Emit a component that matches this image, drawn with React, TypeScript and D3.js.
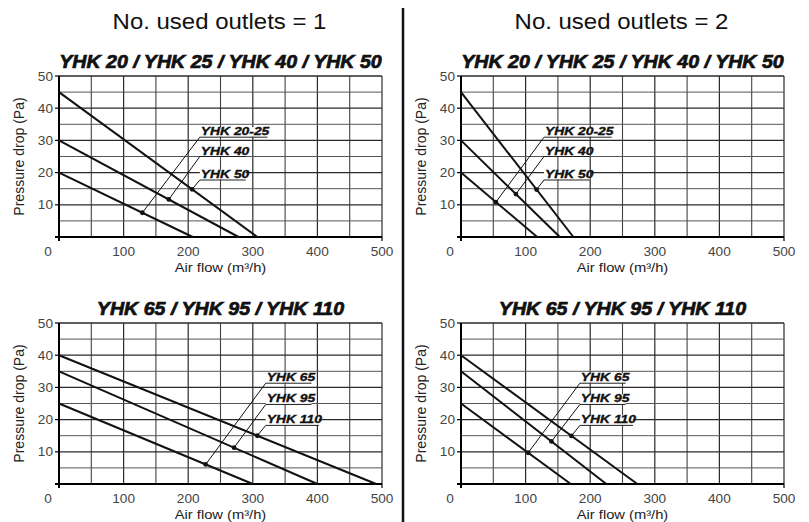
import React from 'react';
import * as d3 from 'd3';

// header / titles
const headers = ['No. used outlets = 1', 'No. used outlets = 2'];
const titles = ['YHK 20 / YHK 25 / YHK 40 / YHK 50', 'YHK 65 / YHK 95 / YHK 110'];
const xTicks = [0, 100, 200, 300, 400, 500];
const yTicks = [10, 20, 30, 40, 50];

// YHK 20 / 25 / 40 / 50
const smallNames = ['YHK 20-25', 'YHK 40', 'YHK 50'];
const smallStart = [20, 30, 45]; // Pa at 0 m3/h
const smallEnd1 = [207, 278, 307]; // m3/h at 0 Pa, 1 outlet
const smallEnd2 = [118, 153, 174]; // m3/h at 0 Pa, 2 outlets
const smallMark1 = [129, 170, 206];
const smallMark2 = [54, 85, 117];
const smallLabelY = [31, 25, 17.7];
const smallLabelX = [218, 128.5];

// YHK 65 / 95 / 110
const bigNames = ['YHK 65', 'YHK 95', 'YHK 110'];
const bigStart = [25, 35, 40];
const bigEnd1 = [300, 400, 491];
const bigEnd2 = [170, 225, 273];
const bigMark1 = [227, 271, 307];
const bigMark2 = [104, 140, 171];
const bigLabelY = [31.3, 24.7, 18.2];
const bigLabelX = [320, 184];

const FONT = '"Liberation Sans", Arial, sans-serif';
const SX = 1.09; // the original type is a bit wider than Arial

const W = 323;
const H = 161;
const colLeft = [59, 461];
const rowTop = [76, 323];

interface PanelProps {
  left: number;
  top: number;
  title: string;
  names: string[];
  start: number[];
  end: number[];
  mark: number[];
  labelX: number;
  labelY: number[];
}

const Panel = ({ left, top, title, names, start, end, mark, labelX, labelY }: PanelProps) => {
  const x = d3.scaleLinear().domain([0, 500]).range([left, left + W]);
  const y = d3.scaleLinear().domain([0, 50]).range([top + H, top]);
  const bottom = top + H;
  const line = d3.line<[number, number]>().x(d => x(d[0])).y(d => y(d[1]));

  const vGrid = d3.range(50, 501, 50);
  const hGrid = d3.range(5, 51, 5);

  return (
    <g>
      <text
        transform={`translate(${left + W / 2},${top - 8}) scale(${SX},1)`}
        textAnchor="middle"
        fontFamily={FONT}
        fontWeight="bold"
        fontStyle="italic"
        fontSize={18}
        fill="#111"
        stroke="#111"
        strokeWidth={0.7}
      >
        {title}
      </text>

      {/* grid */}
      {vGrid.map(v => (
        <line key={'v' + v} x1={x(v)} x2={x(v)} y1={top} y2={bottom}
          stroke={v % 100 === 0 ? '#2a2a2a' : '#444'} strokeWidth={v % 100 === 0 ? 1.2 : 1.1} />
      ))}
      {hGrid.map(v => (
        <line key={'h' + v} x1={left} x2={left + W} y1={y(v)} y2={y(v)}
          stroke={v % 10 === 0 ? '#2a2a2a' : '#555'} strokeWidth={v % 10 === 0 ? 1.3 : 1} />
      ))}

      {/* axes */}
      <line x1={left - 4} x2={left + W} y1={bottom} y2={bottom} stroke="#000" strokeWidth={2} />
      <line x1={left} x2={left} y1={top} y2={bottom + 4} stroke="#000" strokeWidth={2} />
      {yTicks.map(v => (
        <line key={'yt' + v} x1={left - 4} x2={left} y1={y(v)} y2={y(v)} stroke="#000" strokeWidth={1.2} />
      ))}
      <line x1={x(500)} x2={x(500)} y1={bottom} y2={bottom + 4} stroke="#000" strokeWidth={1.2} />

      {/* tick labels */}
      {xTicks.map(v => (
        <text key={'xl' + v}
          transform={`translate(${v === 0 ? x(v) - 11 : x(v)},${bottom + 19}) scale(${SX},1)`}
          textAnchor="middle" fontFamily={FONT} fontSize={12.5} fill="#444">
          {v}
        </text>
      ))}
      {yTicks.map(v => (
        <text key={'yl' + v}
          transform={`translate(${left - 6},${y(v) + 4.5}) scale(${SX},1)`}
          textAnchor="end" fontFamily={FONT} fontSize={12.5} fill="#444">
          {v}
        </text>
      ))}

      {/* axis titles */}
      <text transform={`translate(${left + W / 2},${bottom + 35}) scale(${SX},1)`}
        textAnchor="middle" fontFamily={FONT} fontSize={13.5} fill="#222">
        Air flow (m³/h)
      </text>
      <text transform={`translate(${left - 35},${top + H / 2}) rotate(-90)`}
        textAnchor="middle" fontFamily={FONT} fontSize={14} fill="#222">
        Pressure drop (Pa)
      </text>

      {/* curves */}
      {names.map((n, i) => (
        <path key={'c' + n} d={line([[0, start[i]], [end[i], 0]]) || ''}
          fill="none" stroke="#111" strokeWidth={2} />
      ))}

      {/* annotations */}
      {names.map((n, i) => {
        const onCurve = d3.scaleLinear().domain([0, end[i]]).range([start[i], 0]);
        const mx = x(mark[i]);
        const my = y(onCurve(mark[i]));
        const lx = x(labelX);
        const ly = y(labelY[i]);
        const tw = n.length * 7.3 + 2;
        return (
          <g key={'a' + n}>
            <line x1={mx} y1={my} x2={lx} y2={ly} stroke="#111" strokeWidth={1} />
            <circle cx={mx} cy={my} r={2.4} fill="#111" />
            <rect x={lx} y={ly - 10} width={tw} height={9.5} fill="#fff" />
            <text transform={`translate(${lx + 1},${ly - 2}) scale(1.32,1)`}
              fontFamily={FONT} fontWeight="bold" fontStyle="italic" fontSize={10.5}
              fill="#111" stroke="#111" strokeWidth={0.35}>
              {n}
            </text>
            <line x1={lx} x2={lx + tw} y1={ly} y2={ly} stroke="#222" strokeWidth={1} />
          </g>
        );
      })}
    </g>
  );
};

const App = () => {
  return (
    <svg width={809} height={522} style={{ position: 'absolute', left: 0, top: 0, background: '#fff' }}>
      <rect width={809} height={522} fill="#fff" />
      {headers.map((h, i) => (
        <text key={h} transform={`translate(${colLeft[i] + W / 2 - 1},${28.5}) scale(${SX},1)`}
          textAnchor="middle" fontFamily={FONT} fontSize={22} fill="#111">
          {h}
        </text>
      ))}
      <line x1={403} x2={403} y1={8} y2={522} stroke="#111" strokeWidth={2.5} />

      <Panel left={colLeft[0]} top={rowTop[0]} title={titles[0]} names={smallNames}
        start={smallStart} end={smallEnd1} mark={smallMark1} labelX={smallLabelX[0]} labelY={smallLabelY} />
      <Panel left={colLeft[1]} top={rowTop[0]} title={titles[0]} names={smallNames}
        start={smallStart} end={smallEnd2} mark={smallMark2} labelX={smallLabelX[1]} labelY={smallLabelY} />
      <Panel left={colLeft[0]} top={rowTop[1]} title={titles[1]} names={bigNames}
        start={bigStart} end={bigEnd1} mark={bigMark1} labelX={bigLabelX[0]} labelY={bigLabelY} />
      <Panel left={colLeft[1]} top={rowTop[1]} title={titles[1]} names={bigNames}
        start={bigStart} end={bigEnd2} mark={bigMark2} labelX={bigLabelX[1]} labelY={bigLabelY} />
    </svg>
  );
};

export default App;
